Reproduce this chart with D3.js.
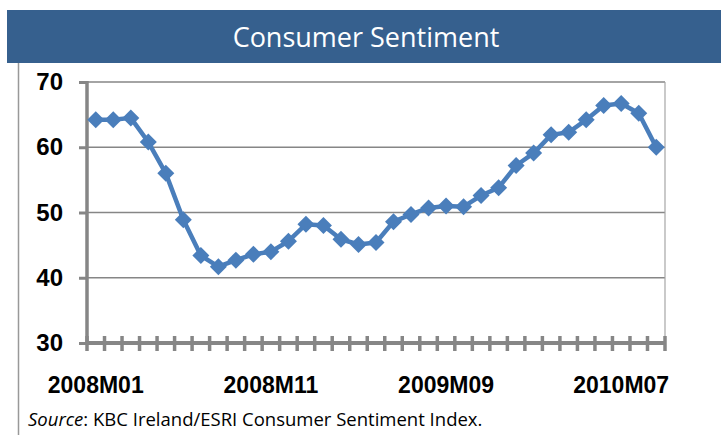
<!DOCTYPE html>
<html>
<head>
<meta charset="utf-8">
<script src="https://cdn.jsdelivr.net/npm/d3@7"></script>
<style>
  body { margin: 0; background: #fff; }
  svg { display: block; }
</style>
</head>
<body>
<div id="svg-container"></div>
<script>
var months = ["2008M01","2008M02","2008M03","2008M04","2008M05","2008M06","2008M07","2008M08","2008M09","2008M10","2008M11","2008M12",
              "2009M01","2009M02","2009M03","2009M04","2009M05","2009M06","2009M07","2009M08","2009M09","2009M10","2009M11","2009M12",
              "2010M01","2010M02","2010M03","2010M04","2010M05","2010M06","2010M07","2010M08","2010M09"];
var sentiment = [64.2, 64.2, 64.5, 60.8, 56.0, 48.9, 43.4, 41.7, 42.7, 43.6, 44.0, 45.6,
                 48.2, 48.0, 45.9, 45.1, 45.4, 48.6, 49.7, 50.7, 51.0, 50.9, 52.6, 53.8,
                 57.2, 59.1, 61.9, 62.3, 64.2, 66.4, 66.7, 65.2, 60.0];
var xTickLabels = ["2008M01", "2008M11", "2009M09", "2010M07"];
var yTicks = [30, 40, 50, 60, 70];
var title = "Consumer Sentiment";

var W = 721, H = 435;
var plotLeft = 87, plotRight = 665, plotTop = 82, plotBottom = 343;
var blue = "#4a7ebb", grey = "#868686";

function init() {
    var svg = d3.select("#svg-container").append("svg")
        .attr("width", W)
        .attr("height", H)
        .attr("class", "chart-svg");

    var x = d3.scaleBand().domain(months).range([plotLeft, plotRight]);
    var y = d3.scaleLinear().domain([30, 70]).range([plotBottom, plotTop]);

    drawFrame(svg);
    drawGrid(svg, x, y);
    drawAxes(svg, x, y);
    drawSeries(svg, x, y);
}

function drawFrame(svg) {
    // title bar
    svg.append("rect")
        .attr("x", 7).attr("y", 10)
        .attr("width", W - 7).attr("height", 53)
        .attr("fill", "#36608e");
    svg.append("text")
        .attr("x", 366).attr("y", 47)
        .attr("text-anchor", "middle")
        .attr("fill", "#fff")
        .attr("font-family", "Open Sans")
        .attr("font-size", 27)
        .text(title);
    // left border
    svg.append("line")
        .attr("x1", 18.5).attr("x2", 18.5)
        .attr("y1", 63).attr("y2", H)
        .attr("stroke", "#999").attr("stroke-width", 1.5);

    var src = svg.append("text")
        .attr("x", 28).attr("y", 426)
        .attr("font-family", "Open Sans")
        .attr("font-size", 18.5)
        .attr("fill", "#000");
    src.append("tspan").attr("font-style", "italic").text("Source");
    src.append("tspan").text(": KBC Ireland/ESRI Consumer Sentiment Index.");
}

function drawGrid(svg, x, y) {
    svg.selectAll(".grid")
        .data(yTicks.filter(function(d) {return d > 30;}))
    .enter().append("line")
        .attr("class", "grid")
        .attr("x1", plotLeft).attr("x2", plotRight)
        .attr("y1", function(d) {return y(d);})
        .attr("y2", function(d) {return y(d);})
        .attr("stroke", grey)
        .attr("stroke-width", 1.5);
    // right edge of plot area
    svg.append("line")
        .attr("x1", plotRight).attr("x2", plotRight)
        .attr("y1", plotTop).attr("y2", plotBottom)
        .attr("stroke", "#a6a6a6").attr("stroke-width", 1.2);
}

function drawAxes(svg, x, y) {
    // y axis
    var yAxis = d3.axisLeft(y).tickValues(yTicks).tickSize(8).tickPadding(16);
    var gy = svg.append("g")
        .attr("transform", "translate(" + plotLeft + ",0)")
        .call(yAxis);
    gy.select(".domain").remove();
    gy.selectAll(".tick line").attr("stroke", grey).attr("stroke-width", 3);
    gy.selectAll(".tick text")
        .attr("font-family", "Liberation Sans")
        .attr("font-weight", "bold")
        .attr("font-size", 24)
        .attr("fill", "#000");
    svg.append("line")
        .attr("x1", plotLeft).attr("x2", plotLeft)
        .attr("y1", plotTop - 1).attr("y2", plotBottom + 1)
        .attr("stroke", grey).attr("stroke-width", 3.5);

    // x axis: ticks sit between categories
    var bounds = months.map(function(m) {return x(m);}).concat([plotRight]);
    svg.selectAll(".xtick")
        .data(bounds)
    .enter().append("line")
        .attr("class", "xtick")
        .attr("x1", function(d) {return d;})
        .attr("x2", function(d) {return d;})
        .attr("y1", plotBottom - 7).attr("y2", plotBottom + 8)
        .attr("stroke", grey).attr("stroke-width", 3.5);
    svg.append("line")
        .attr("x1", plotLeft).attr("x2", plotRight + 1)
        .attr("y1", plotBottom).attr("y2", plotBottom)
        .attr("stroke", grey).attr("stroke-width", 4);

    svg.selectAll(".xlabel")
        .data(xTickLabels)
    .enter().append("text")
        .attr("class", "xlabel")
        .attr("x", function(d) {return x(d) + x.bandwidth() / 2;})
        .attr("y", 393)
        .attr("text-anchor", "middle")
        .attr("font-family", "Liberation Sans")
        .attr("font-weight", "bold")
        .attr("font-size", 23)
        .attr("fill", "#000")
        .text(function(d) {return d;});
}

function drawSeries(svg, x, y) {
    var pts = months.map(function(m, i) {return {m: m, v: sentiment[i]};});
    var line = d3.line()
        .x(function(d) {return x(d.m) + x.bandwidth() / 2;})
        .y(function(d) {return y(d.v);});
    svg.append("path")
        .datum(pts)
        .attr("fill", "none")
        .attr("stroke", blue)
        .attr("stroke-width", 4.5)
        .attr("stroke-linejoin", "round")
        .attr("d", line);
    svg.selectAll(".marker")
        .data(pts)
    .enter().append("path")
        .attr("class", "marker")
        .attr("transform", function(d) {
            return "translate(" + (x(d.m) + x.bandwidth() / 2) + "," + y(d.v) + ")";
        })
        .attr("d", "M0,-8.5L8.5,0L0,8.5L-8.5,0Z")
        .attr("fill", blue);
}

init();
</script>
</body>
</html>
